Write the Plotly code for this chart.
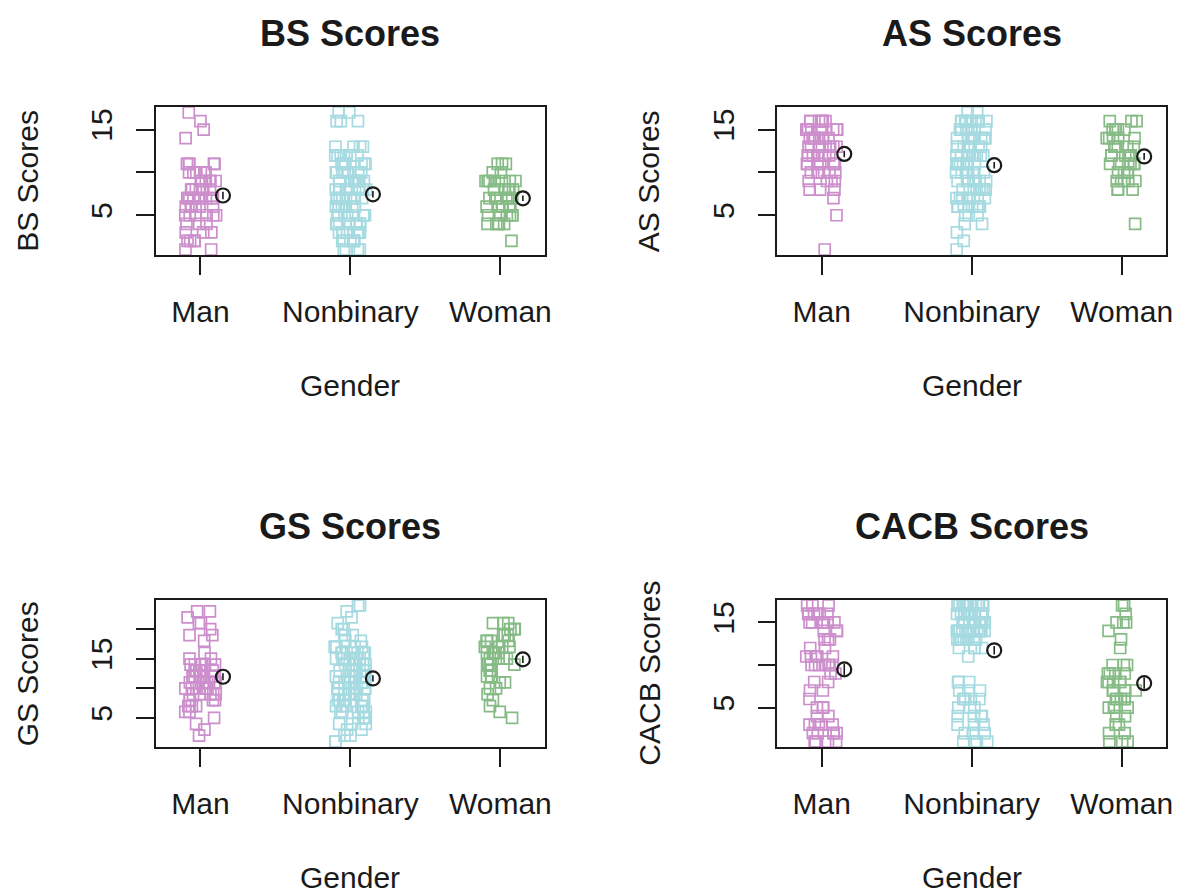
import numpy as np
import plotly.graph_objects as go

# Group labels and colours
genders = ["Man", "Nonbinary", "Woman"]
colors = ["#CC8FCC", "#A6DAE1", "#86BB86"]

# Score distributions per group, as {score: number of respondents}
bs_man = {17: 1, 16: 1, 15: 1, 14: 1, 11: 5, 10: 6, 9: 6, 8: 7, 7: 9, 6: 7, 5: 6, 4: 3, 3: 3, 2: 4, 1: 2}
bs_nonbinary = {17: 2, 16: 3, 13: 4, 12: 6, 11: 7, 10: 8, 9: 9, 8: 9, 7: 9, 6: 9, 5: 8, 4: 8, 3: 8, 2: 6, 1: 4}
bs_woman = {11: 3, 10: 2, 9: 7, 8: 6, 7: 7, 6: 7, 5: 6, 4: 5, 2: 1}

as_man = {16: 7, 15: 8, 14: 8, 13: 8, 12: 8, 11: 7, 10: 6, 9: 4, 8: 3, 7: 1, 5: 1, 1: 1}
as_nonbinary = {17: 2, 16: 9, 15: 9, 14: 10, 13: 9, 12: 9, 11: 8, 10: 8, 9: 7, 8: 7, 7: 7, 6: 7, 5: 3, 4: 2,
                3: 1, 2: 1, 1: 1}
as_woman = {16: 3, 15: 5, 14: 5, 13: 6, 12: 6, 11: 6, 10: 4, 9: 5, 8: 3, 4: 1}

gs_man = {23: 2, 22: 1, 21: 2, 20: 1, 19: 2, 18: 1, 16: 1, 15: 2, 14: 6, 13: 7, 12: 7, 11: 6, 10: 6, 9: 5, 8: 4,
          7: 3, 6: 2, 5: 1, 4: 1, 3: 1, 2: 1}
gs_nonbinary = {24: 2, 23: 1, 22: 1, 21: 1, 20: 2, 19: 3, 18: 3, 17: 5, 16: 6, 15: 6, 14: 6, 13: 7, 12: 7, 11: 7,
                10: 7, 9: 7, 8: 7, 7: 6, 6: 4, 5: 3, 4: 3, 3: 2, 2: 2, 1: 2}
gs_woman = {21: 3, 20: 3, 19: 3, 18: 4, 17: 4, 16: 5, 15: 4, 14: 4, 13: 2, 12: 3, 11: 2, 10: 2, 9: 1, 8: 1, 7: 1,
            6: 1, 5: 1}

cacb_man = {17: 3, 16: 6, 15: 7, 14: 3, 13: 3, 12: 2, 11: 5, 10: 7, 9: 2, 8: 2, 7: 2, 6: 1, 5: 3, 4: 2, 3: 5,
            2: 5, 1: 4}
cacb_nonbinary = {17: 12, 16: 14, 15: 15, 14: 14, 13: 10, 12: 4, 11: 1, 8: 4, 7: 3, 6: 5, 5: 3, 4: 4, 3: 3, 2: 4,
                  1: 4}
cacb_woman = {17: 2, 16: 1, 15: 3, 14: 1, 13: 1, 12: 1, 10: 3, 9: 4, 8: 5, 7: 5, 6: 5, 5: 4, 4: 2, 3: 2, 2: 2,
              1: 3}

# Panel titles and y tick labels (unlabelled ticks have empty text)
panel_titles = ["BS Scores", "AS Scores", "GS Scores", "CACB Scores"]
panel_data = [
    [bs_man, bs_nonbinary, bs_woman],
    [as_man, as_nonbinary, as_woman],
    [gs_man, gs_nonbinary, gs_woman],
    [cacb_man, cacb_nonbinary, cacb_woman],
]
y_tickvals = [[5, 10, 15], [5, 10, 15], [5, 10, 15, 20], [5, 10, 15]]
y_ticktext = [["5", "", "15"], ["5", "", "15"], ["5", "", "15", ""], ["5", "", "15"]]
x_label = "Gender"

# Page geometry (pixels)
W, H = 1183, 894
box_x = [(157, 548), (782, 1173), (157, 548), (782, 1173)]
box_y = [(107, 255), (107, 255), (600, 747), (600, 747)]

FONT = "Liberation Sans, Arial, Helvetica, sans-serif"
INK = "#1a1a1a"
JITTER = 0.105
MEAN_SHIFT = 0.15


def expand(counts):
    vals = []
    for v, n in counts.items():
        vals.extend([v] * n)
    return np.array(vals, dtype=float)


rng = np.random.default_rng(11)
fig = go.Figure()
annotations = []
layout_axes = {}

for k in range(4):
    xa = "x" if k == 0 else f"x{k + 1}"
    ya = "y" if k == 0 else f"y{k + 1}"
    groups = [expand(c) for c in panel_data[k]]
    all_vals = np.concatenate(groups)
    lo, hi = all_vals.min(), all_vals.max()
    pad = 0.04 * (hi - lo)

    # jittered strip of open squares per group
    for i, (vals, col) in enumerate(zip(groups, colors)):
        pos = (i + 1) + rng.uniform(-JITTER, JITTER, size=len(vals))
        fig.add_trace(go.Scatter(
            x=pos, y=vals, mode="markers", xaxis=xa, yaxis=ya, showlegend=False,
            marker=dict(symbol="square-open", size=11, color=col, line=dict(width=1.7, color=col)),
            hoverinfo="skip"))

    # group mean with standard error bar
    for i, vals in enumerate(groups):
        mean = vals.mean()
        se = vals.std(ddof=1) / np.sqrt(len(vals))
        fig.add_trace(go.Scatter(
            x=[i + 1 + MEAN_SHIFT], y=[mean], mode="markers", xaxis=xa, yaxis=ya, showlegend=False,
            marker=dict(symbol="circle-open", size=14, color=INK, line=dict(width=2.2, color=INK)),
            error_y=dict(type="data", array=[se], visible=True, color=INK, thickness=1.6, width=0)))

    x0, x1 = box_x[k]
    y0, y1 = box_y[k]
    axis_common = dict(showline=True, mirror=True, linecolor=INK, linewidth=1.5, showgrid=False,
                       zeroline=False, ticks="outside", ticklen=18, tickwidth=1.5, tickcolor=INK,
                       tickfont=dict(family=FONT, size=30, color=INK))
    layout_axes["xaxis" if k == 0 else f"xaxis{k + 1}"] = dict(
        axis_common, domain=[x0 / W, x1 / W], anchor=ya, range=[0.704, 3.296],
        tickvals=[1, 2, 3], ticktext=genders, ticklabelstandoff=11)
    layout_axes["yaxis" if k == 0 else f"yaxis{k + 1}"] = dict(
        axis_common, domain=[1 - y1 / H, 1 - y0 / H], anchor=xa, range=[lo - pad, hi + pad],
        tickvals=y_tickvals[k], ticktext=y_ticktext[k], tickangle=-90, ticklabelstandoff=12)

    cx = (x0 + x1) / 2
    cy = (y0 + y1) / 2
    annotations.append(dict(text=f"<b>{panel_titles[k]}</b>", x=cx / W, y=1 - (y0 - 74) / H,
                            xref="paper", yref="paper", showarrow=False, xanchor="center", yanchor="middle",
                            font=dict(family=FONT, size=36, color=INK)))
    annotations.append(dict(text=x_label, x=cx / W, y=1 - (y1 + 130) / H, xref="paper", yref="paper",
                            showarrow=False, xanchor="center", yanchor="middle",
                            font=dict(family=FONT, size=30, color=INK)))
    annotations.append(dict(text=panel_titles[k], x=(x0 - 129) / W, y=1 - cy / H, xref="paper", yref="paper",
                            showarrow=False, xanchor="center", yanchor="middle", textangle=-90,
                            font=dict(family=FONT, size=30, color=INK)))

fig.update_layout(width=W, height=H, margin=dict(l=0, r=0, t=0, b=0), autosize=False,
                  paper_bgcolor="white", plot_bgcolor="white", annotations=annotations, **layout_axes)

fig.write_html("out.html")
